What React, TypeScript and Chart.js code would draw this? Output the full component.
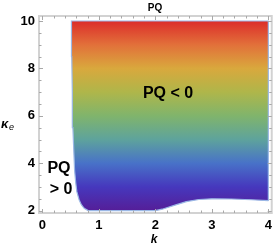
import React, { useEffect, useRef } from "react";
import { Chart, registerables } from "chart.js";

Chart.register(...registerables);

// Left boundary of the PQ<0 region (bottom -> top)
const leftK = [0.81, 0.74, 0.69, 0.65, 0.61, 0.59, 0.57, 0.555, 0.54, 0.53, 0.52, 0.515];
const leftKappa = [2.0, 2.1, 2.25, 2.46, 2.8, 3.18, 3.7, 4.57, 5.5, 7.0, 8.5, 10.0];
// Bottom boundary (right -> left)
const bottomK = [4.0, 3.7, 3.35, 3.0, 2.77, 2.55, 2.36, 2.12, 2.0];
const bottomKappa = [2.42, 2.46, 2.49, 2.5, 2.47, 2.38, 2.24, 2.06, 2.0];
const xTicks = [0, 1, 2, 3, 4];
const yTicks = [2, 4, 6, 8, 10];
const gradientStops: [number, string][] = [
  [10, "#dc2d2a"],
  [9, "#e2703a"],
  [8, "#d9a83d"],
  [7, "#afb64a"],
  [6, "#80b46c"],
  [5, "#5ea39c"],
  [4, "#4872c8"],
  [3, "#4638bd"],
  [2, "#551e98"],
];

const FONT = "'Liberation Sans', Arial, sans-serif";

export default function App() {
  const ref = useRef<HTMLCanvasElement | null>(null);
  useEffect(() => {
    document.body.style.margin = "0";
    const canvas = ref.current!;
    const pts: { x: number; y: number }[] = [];
    bottomK.forEach((k, i) => pts.push({ x: k, y: bottomKappa[i] }));
    leftK.forEach((k, i) => pts.push({ x: k, y: leftKappa[i] }));
    pts.push({ x: 4, y: 10 });
    pts.push({ x: bottomK[0], y: bottomKappa[0] });

    const decor = {
      id: "decor",
      afterDraw(chart: any) {
        const c = chart.ctx as CanvasRenderingContext2D;
        const a = chart.chartArea;
        const xs = chart.scales.x;
        const ys = chart.scales.y;
        c.save();
        // frame
        c.strokeStyle = "#d2d2d2";
        c.lineWidth = 2;
        c.strokeRect(a.left, a.top, a.right - a.left, a.bottom - a.top);
        // ticks
        c.strokeStyle = "#a8a8a8";
        c.lineWidth = 1;
        c.beginPath();
        for (let i = 0; i <= 20; i++) {
          const v = i * 0.2;
          const px = Math.round(xs.getPixelForValue(v)) + 0.5;
          const len = i % 5 === 0 ? 4 : 2.5;
          c.moveTo(px, a.bottom);
          c.lineTo(px, a.bottom - len);
          c.moveTo(px, a.top);
          c.lineTo(px, a.top + len);
        }
        for (let i = 0; i <= 16; i++) {
          const v = 2 + i * 0.5;
          const py = Math.round(ys.getPixelForValue(v)) + 0.5;
          const len = i % 4 === 0 ? 4 : 2.5;
          c.moveTo(a.left, py);
          c.lineTo(a.left + len, py);
          c.moveTo(a.right, py);
          c.lineTo(a.right - len, py);
        }
        c.stroke();
        // texts
        c.fillStyle = "#000";
        c.textAlign = "center";
        c.textBaseline = "middle";
        c.font = `bold 10px ${FONT}`;
        c.fillText("PQ", 155, 8);
        c.font = `bold 16px ${FONT}`;
        c.fillText("PQ < 0", 168, 94);
        c.fillText("PQ", 59, 169);
        c.fillText("> 0", 61, 190);
        c.font = `italic bold 12px ${FONT}`;
        c.fillText("k", 154, 240);
        c.textAlign = "left";
        c.font = `italic bold 13px ${FONT}`;
        c.fillText("κ", 1, 124);
        c.font = `italic 9px ${FONT}`;
        c.fillText("e", 9, 127);
        c.restore();
      },
    };

    const chart = new Chart(canvas, {
      type: "scatter",
      data: {
        datasets: [
          {
            data: pts,
            showLine: true,
            fill: "shape",
            tension: 0,
            pointRadius: 0,
            borderColor: "#9bb8e6",
            borderWidth: 1.2,
            backgroundColor: (ctx: any) => {
              const ch = ctx.chart;
              if (!ch.chartArea) return "#888";
              const ys = ch.scales.y;
              const y0 = ys.getPixelForValue(10);
              const y1 = ys.getPixelForValue(2);
              const g = ch.ctx.createLinearGradient(0, y0, 0, y1);
              gradientStops.forEach(([v, col]) => {
                g.addColorStop((10 - v) / 8, col);
              });
              return g;
            },
          },
        ],
      },
      options: {
        animation: false,
        responsive: false,
        layout: { padding: { top: 16, right: 3, left: 0, bottom: 0 } },
        plugins: { legend: { display: false }, tooltip: { enabled: false }, title: { display: false } },
        scales: {
          x: {
            type: "linear",
            min: -0.06,
            max: 4.06,
            grid: { display: false, drawTicks: false },
            border: { display: false },
            afterBuildTicks: (s: any) => {
              s.ticks = xTicks.map((v) => ({ value: v }));
            },
            afterFit: (s: any) => {
              s.height = 36;
            },
            ticks: {
              padding: 5,
              color: "#000",
              font: { family: FONT, size: 13, weight: "bold" },
              maxRotation: 0,
              autoSkip: false,
            },
          },
          y: {
            type: "linear",
            min: 1.9,
            max: 10.21,
            grid: { display: false, drawTicks: false },
            border: { display: false },
            afterBuildTicks: (s: any) => {
              s.ticks = yTicks.map((v) => ({ value: v }));
            },
            afterFit: (s: any) => {
              s.width = 39;
            },
            ticks: {
              padding: 4,
              color: "#000",
              font: { family: FONT, size: 13, weight: "bold" },
              autoSkip: false,
            },
          },
        },
      },
      plugins: [decor],
    } as any);
    return () => chart.destroy();
  }, []);
  return (
    <div style={{ width: 277, height: 249 }}>
      <canvas ref={ref} width={277} height={249} style={{ display: "block" }} />
    </div>
  );
}
